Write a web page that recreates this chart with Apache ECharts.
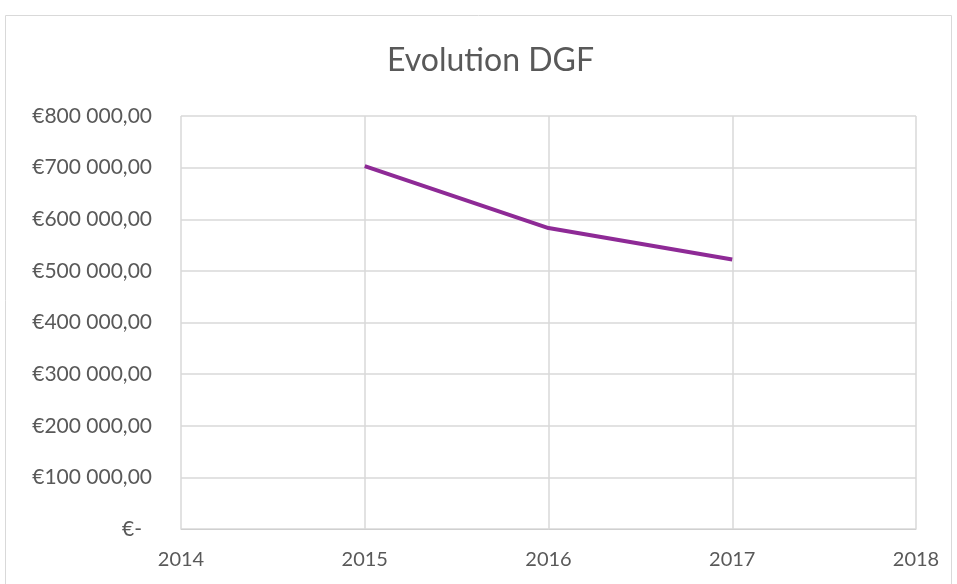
<!DOCTYPE html>
<html>
<head>
<meta charset="utf-8">
<script src="https://cdn.jsdelivr.net/npm/echarts@6/dist/echarts.min.js"></script>
<style>
  html, body { margin: 0; padding: 0; background: #fff; }
  #chart { width: 957px; height: 584px; }
</style>
</head>
<body>
<div id="chart"></div>
<script>
const years = [2015, 2016, 2017]
const dgf = [703000, 583000, 522000]
const yTicks = [0, 100000, 200000, 300000, 400000, 500000, 600000, 700000, 800000]

function euro (v) {
  if (v === 0) return '{z|€-}'
  let s = String(Math.round(v)).replace(/\B(?=(\d{3})+(?!\d))/g, ' ')
  return '€' + s + ',00'
}

const chart = echarts.init(document.getElementById('chart'))
chart.setOption({
  animation: false,
  textStyle: { fontFamily: 'Lato' },
  title: {
    text: 'Evolution DGF',
    left: 382,
    top: 40,
    textStyle: { fontFamily: 'Lato', fontWeight: 'normal', fontSize: 32, color: '#595959' }
  },
  graphic: [{
    type: 'rect',
    shape: { x: 5.5, y: 15.5, width: 946, height: 580 },
    style: { fill: 'none', stroke: '#d9d9d9', lineWidth: 1 },
    silent: true
  }],
  grid: { left: 181, right: 41, top: 116, bottom: 55 },
  xAxis: {
    type: 'value',
    min: 2014,
    max: 2018,
    interval: 1,
    axisLine: { show: true, onZero: false, lineStyle: { color: '#d0d0d0' } },
    axisTick: { show: false },
    axisLabel: { margin: 21, fontSize: 20, color: '#595959', formatter: v => String(v) },
    splitLine: { show: true, lineStyle: { color: '#d9d9d9', width: 1.5 } }
  },
  yAxis: {
    type: 'value',
    min: 0,
    max: yTicks[yTicks.length - 1],
    interval: 100000,
    axisLine: { show: false },
    axisTick: { show: false },
    axisLabel: {
      margin: 29,
      fontSize: 21,
      color: '#595959',
      formatter: euro,
      rich: { z: { fontSize: 21, color: '#595959', fontFamily: 'Lato', padding: [0, 10, 0, 0] } }
    },
    splitLine: { show: true, lineStyle: { color: '#d9d9d9', width: 1.5 } }
  },
  series: [{
    type: 'line',
    data: years.map((y, i) => [y, dgf[i]]),
    symbol: 'none',
    lineStyle: { color: '#8e2a96', width: 4 }
  }]
})
</script>
</body>
</html>
